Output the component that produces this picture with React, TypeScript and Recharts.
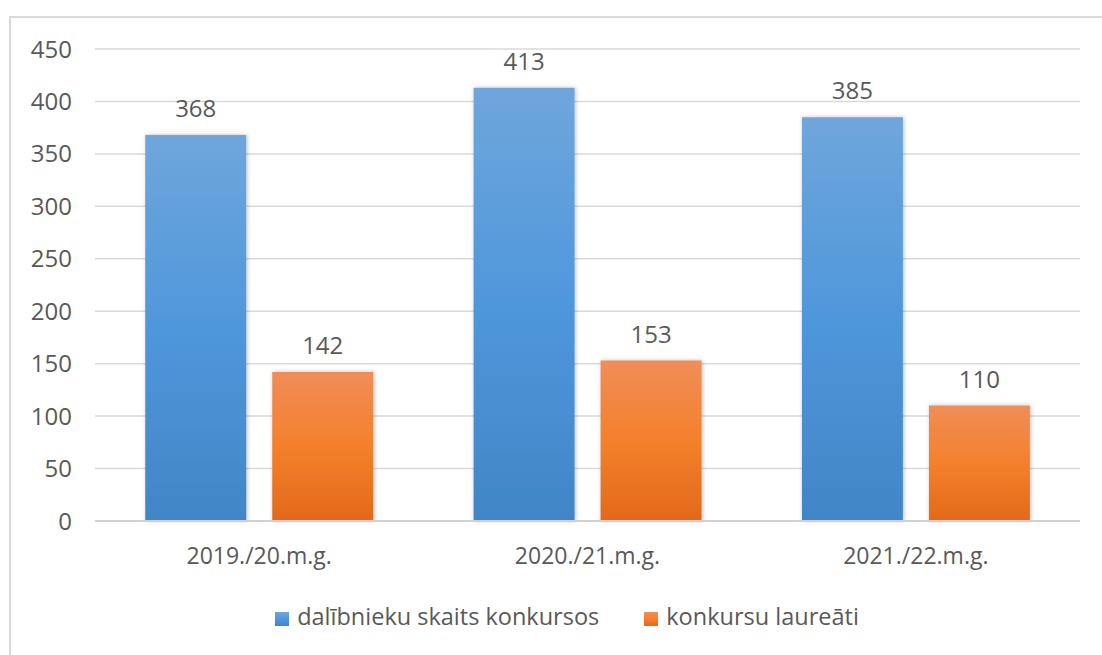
import React from 'react';
import { BarChart, Bar, XAxis, YAxis, CartesianGrid, Legend, LabelList } from 'recharts';

const years = ['2019./20.m.g.', '2020./21.m.g.', '2021./22.m.g.'];
const participants = [368, 413, 385];
const laureates = [142, 153, 110];
const yTicks = [0, 50, 100, 150, 200, 250, 300, 350, 400, 450];

const data = years.map((year, i) => ({
    year,
    participants: participants[i],
    laureates: laureates[i],
}));

const textColor = '#595959';
const font = '"Open Sans", "Noto Sans", sans-serif';

const App: React.FC = () => {
    return (
        <div style={{ position: 'absolute', left: 0, top: 0, width: 1102, height: 655, background: '#fff', fontFamily: font }}>
            <div
                style={{
                    position: 'absolute',
                    left: 9,
                    top: 16,
                    right: 0,
                    bottom: 0,
                    borderTop: '2px solid #d9d9d9',
                    borderLeft: '2px solid #d9d9d9',
                }}
            />
            <BarChart
                width={1102}
                height={655}
                data={data}
                margin={{ top: 49, right: 22, left: 0, bottom: 94 }}
                barCategoryGap="15.3%"
                barGap={26}
                style={{ position: 'absolute', left: 0, top: 0 }}
            >
                <defs>
                    <linearGradient id="blueFill" x1="0" y1="0" x2="0" y2="1">
                        <stop offset="0%" stopColor="#6fa6dc" />
                        <stop offset="50%" stopColor="#4f97db" />
                        <stop offset="100%" stopColor="#4186c6" />
                    </linearGradient>
                    <linearGradient id="orangeFill" x1="0" y1="0" x2="0" y2="1">
                        <stop offset="0%" stopColor="#f08d58" />
                        <stop offset="50%" stopColor="#f4802c" />
                        <stop offset="100%" stopColor="#e2691a" />
                    </linearGradient>
                    <filter id="barShadow" x="-10%" y="-5%" width="125%" height="110%">
                        <feDropShadow dx="1" dy="0" stdDeviation="2" floodColor="#000" floodOpacity="0.25" />
                    </filter>
                </defs>
                <CartesianGrid vertical={false} stroke="#d9d9d9" strokeWidth={1.5} />
                <XAxis
                    dataKey="year"
                    tickLine={false}
                    axisLine={{ stroke: '#d0d0d0', strokeWidth: 2 }}
                    tick={{ fill: textColor, fontSize: 23, fontFamily: font }}
                    tickMargin={21}
                    height={40}
                />
                <YAxis
                    domain={[0, 450]}
                    ticks={yTicks}
                    interval={0}
                    tickLine={false}
                    axisLine={false}
                    width={95}
                    tick={{ fill: textColor, fontSize: 24, fontFamily: font }}
                    tickMargin={17}
                />
                <Legend
                    verticalAlign="middle"
                    align="center"
                    layout="horizontal"
                    iconType="square"
                    iconSize={14}
                    wrapperStyle={{ top: 600, left: 77, width: 1025, fontSize: 23.5, fontFamily: font }}
                    formatter={(value: string) => (
                        <span style={{ color: textColor, marginLeft: 4, marginRight: 35 }}>{value}</span>
                    )}
                />
                <Bar
                    dataKey="participants"
                    name="dalībnieku skaits konkursos"
                    fill="url(#blueFill)"
                    filter="url(#barShadow)"
                    isAnimationActive={false}
                    legendType="square"
                >
                    <LabelList dataKey="participants" position="top" offset={18} fill={textColor} fontSize={24} fontFamily={font} />
                </Bar>
                <Bar
                    dataKey="laureates"
                    name="konkursu laureāti"
                    fill="url(#orangeFill)"
                    filter="url(#barShadow)"
                    isAnimationActive={false}
                    legendType="square"
                >
                    <LabelList dataKey="laureates" position="top" offset={18} fill={textColor} fontSize={24} fontFamily={font} />
                </Bar>
            </BarChart>
        </div>
    );
};

export default App;
